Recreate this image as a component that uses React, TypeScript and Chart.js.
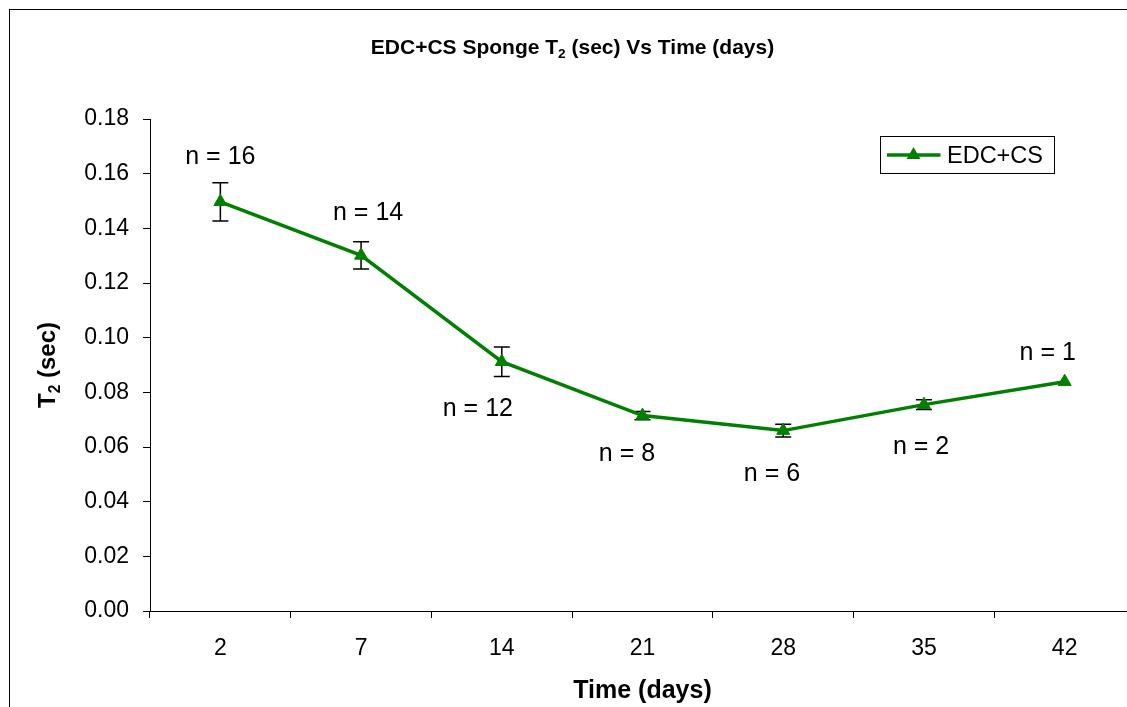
import React, { useEffect, useRef } from 'react';
import { Chart, registerables } from 'chart.js';

Chart.register(...registerables);

// ---- data ----
const days = ['2', '7', '14', '21', '28', '35', '42'];
const t2Values = [0.1497, 0.1301, 0.0912, 0.0715, 0.066, 0.0755, 0.0839];
const t2Errors = [0.007, 0.005, 0.0054, 0.0015, 0.0023, 0.0018, 0];
const nLabels = ['n = 16', 'n = 14', 'n = 12', 'n = 8', 'n = 6', 'n = 2', 'n = 1'];
// annotation anchors in data units (category index, T2 value)
const nLabelX = [0, 1.05, 1.83, 2.89, 3.92, 4.98, 5.88];
const nLabelY = [0.1668, 0.1462, 0.0748, 0.0582, 0.0507, 0.0607, 0.0953];
const yMin = 0;
const yMax = 0.18;
const yStep = 0.02;
const seriesName = 'EDC+CS';

const FAMILY = '"Liberation Sans", Arial, Helvetica, sans-serif';
const GREEN = '#008000';

type Part = { t: string; sub?: boolean };

function partsWidth(ctx: CanvasRenderingContext2D, parts: Part[], size: number, bold: boolean) {
  let w = 0;
  for (const p of parts) {
    const s = p.sub ? size * 0.65 : size;
    ctx.font = `${bold ? 'bold ' : ''}${s}px ${FAMILY}`;
    w += ctx.measureText(p.t).width;
  }
  return w;
}

function drawParts(ctx: CanvasRenderingContext2D, parts: Part[], cx: number, baseline: number, size: number, bold: boolean) {
  const total = partsWidth(ctx, parts, size, bold);
  let x = cx - total / 2;
  ctx.textAlign = 'left';
  ctx.textBaseline = 'alphabetic';
  for (const p of parts) {
    const s = p.sub ? size * 0.65 : size;
    ctx.font = `${bold ? 'bold ' : ''}${s}px ${FAMILY}`;
    ctx.fillText(p.t, x, baseline + (p.sub ? size * 0.2 : 0));
    x += ctx.measureText(p.t).width;
  }
}

function triangle(ctx: CanvasRenderingContext2D, x: number, y: number, r: number) {
  ctx.beginPath();
  ctx.moveTo(x, y - r);
  ctx.lineTo(x + r * Math.sin(Math.PI / 3), y + r / 2);
  ctx.lineTo(x - r * Math.sin(Math.PI / 3), y + r / 2);
  ctx.closePath();
  ctx.fill();
}

const decorPlugin = {
  id: 'decor',
  beforeDatasetsDraw(chart: any) {
    const ctx: CanvasRenderingContext2D = chart.ctx;
    const meta = chart.getDatasetMeta(0);
    const ys = chart.scales.y;
    ctx.save();
    ctx.strokeStyle = '#000';
    ctx.lineWidth = 1.5;
    t2Errors.forEach((e, i) => {
      if (!e) return;
      const x = meta.data[i].x;
      const top = ys.getPixelForValue(t2Values[i] + e);
      const bot = ys.getPixelForValue(t2Values[i] - e);
      ctx.beginPath();
      ctx.moveTo(x, top);
      ctx.lineTo(x, bot);
      ctx.moveTo(x - 8, top);
      ctx.lineTo(x + 8, top);
      ctx.moveTo(x - 8, bot);
      ctx.lineTo(x + 8, bot);
      ctx.stroke();
    });
    ctx.restore();
  },
  afterDraw(chart: any) {
    const ctx: CanvasRenderingContext2D = chart.ctx;
    const area = chart.chartArea;
    const xs = chart.scales.x;
    const ys = chart.scales.y;
    ctx.save();
    ctx.fillStyle = '#000';

    // title
    drawParts(ctx, [{ t: 'EDC+CS Sponge T' }, { t: '2', sub: true }, { t: ' (sec) Vs Time (days)' }], 562.5, 43.5, 21, true);

    // x axis title
    drawParts(ctx, [{ t: 'Time (days)' }], (area.left + area.right) / 2, area.bottom + 86.5, 25, true);

    // y axis title
    ctx.save();
    ctx.translate(45, (area.top + area.bottom) / 2);
    ctx.rotate(-Math.PI / 2);
    drawParts(ctx, [{ t: 'T' }, { t: '2', sub: true }, { t: ' (sec)' }], 0, 0, 24, true);
    ctx.restore();

    // n annotations
    ctx.font = `25px ${FAMILY}`;
    ctx.textAlign = 'center';
    ctx.textBaseline = 'alphabetic';
    nLabels.forEach((lab, i) => {
      const x = xs.getPixelForValue(nLabelX[i]);
      const y = ys.getPixelForValue(nLabelY[i]);
      ctx.fillText(lab, x, y + 0.36 * 25);
    });

    // legend
    const lx = area.right - 254.5;
    const ly = 126.5;
    ctx.strokeStyle = '#000';
    ctx.lineWidth = 1;
    ctx.strokeRect(lx, ly, 174, 37);
    ctx.strokeStyle = GREEN;
    ctx.fillStyle = GREEN;
    ctx.lineWidth = 3.5;
    ctx.beginPath();
    ctx.moveTo(lx + 6.5, ly + 18.5);
    ctx.lineTo(lx + 60, ly + 18.5);
    ctx.stroke();
    triangle(ctx, lx + 33, ly + 18.5, 8);
    ctx.fillStyle = '#000';
    ctx.font = `23.5px ${FAMILY}`;
    ctx.textAlign = 'left';
    ctx.fillText(seriesName, lx + 66.5, ly + 26.8);
    ctx.restore();
  },
};

export default function App() {
  const ref = useRef<HTMLCanvasElement | null>(null);
  useEffect(() => {
    if (!ref.current) return;
    const tickFont = { family: FAMILY, size: 23 };
    const chart = new Chart(ref.current, {
      type: 'line',
      data: {
        labels: days,
        datasets: [
          {
            label: seriesName,
            data: t2Values,
            borderColor: GREEN,
            backgroundColor: GREEN,
            borderWidth: 3.5,
            pointStyle: 'triangle',
            pointRadius: 7.5,
            pointBorderWidth: 1,
            pointBackgroundColor: GREEN,
            pointBorderColor: GREEN,
            tension: 0,
            fill: false,
          },
        ],
      },
      options: {
        responsive: false,
        animation: false,
        devicePixelRatio: 1,
        layout: { padding: { left: 0, top: 109, right: 25, bottom: 0 } },
        plugins: {
          legend: { display: false },
          title: { display: false },
          tooltip: { enabled: false },
        },
        scales: {
          x: {
            type: 'category',
            offset: true,
            grid: { offset: true, drawOnChartArea: false, drawTicks: true, tickLength: 7, color: '#000', lineWidth: 1 },
            border: { display: true, color: '#000', width: 1 },
            ticks: { color: '#000', font: tickFont, padding: 17, maxRotation: 0, autoSkip: false },
            afterFit: (s: any) => {
              s.height = 139;
            },
          },
          y: {
            min: yMin,
            max: yMax,
            grid: { drawOnChartArea: false, drawTicks: true, tickLength: 7, color: '#000', lineWidth: 1 },
            border: { display: true, color: '#000', width: 1 },
            ticks: {
              stepSize: yStep,
              color: '#000',
              font: tickFont,
              padding: 14,
              callback: (v: any) => Number(v).toFixed(2),
            },
            afterFit: (s: any) => {
              s.width = 140;
            },
          },
        },
      } as any,
      plugins: [decorPlugin],
    });
    return () => chart.destroy();
  }, []);

  return (
    <div style={{ position: 'fixed', left: 0, top: 0, width: 1127, height: 707, overflow: 'hidden', background: '#fff' }}>
      <div style={{ position: 'absolute', left: 9, top: 9, width: 1170, height: 760, border: '1px solid #000' }} />
      <canvas ref={ref} width={1150} height={740} style={{ position: 'absolute', left: 10, top: 10, width: 1150, height: 740 }} />
    </div>
  );
}
